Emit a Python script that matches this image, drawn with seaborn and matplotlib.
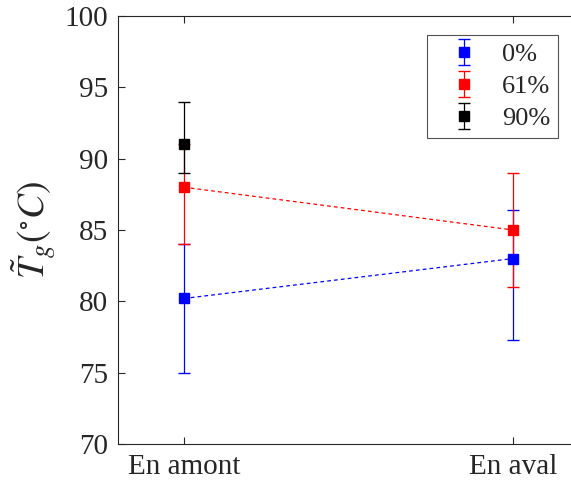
import matplotlib
matplotlib.use("Agg")
import matplotlib.pyplot as plt
import seaborn as sns
import numpy as np
import pandas as pd

categories = ["En amont", "En aval"]
series = ["0%", "61%", "90%"]
colors = ["#0000ff", "#ff0000", "#000000"]
vals_0 = [80.2, 83.0]
vals_61 = [88.0, 85.0]
vals_90 = [91.0]
lower_0 = [5.2, 5.7]
upper_0 = [3.8, 3.4]
lower_61 = [4.0, 4.0]
upper_61 = [3.0, 4.0]
lower_90 = [2.0]
upper_90 = [3.0]
yticks = [70, 75, 80, 85, 90, 95, 100]

sns.set_style("ticks")
plt.rcParams["font.family"] = ["Liberation Serif", "DejaVu Serif"]
plt.rcParams["mathtext.fontset"] = "stix"

fig = plt.figure(figsize=(5.71, 4.9), dpi=100)
ax = fig.add_axes([118/571, 1-444/490, (579-118)/571, (444-16)/490])

data = [(vals_0, lower_0, upper_0), (vals_61, lower_61, upper_61), (vals_90, lower_90, upper_90)]
xpos = np.arange(1, len(categories) + 1)
handles = []
for name, col, (v, lo, up) in zip(series, colors, data):
    x = xpos[:len(v)]
    df = pd.DataFrame({"x": x, "y": v})
    if len(v) > 1:
        sns.lineplot(data=df, x="x", y="y", ax=ax, color=col, linestyle=(0, (3, 2.5)),
                     linewidth=0.9, legend=False)
    h = ax.errorbar(x, v, yerr=[lo, up], fmt="s", color=col, ecolor=col,
                    markersize=7, elinewidth=0.9, capsize=4.5, capthick=1.0,
                    linestyle="none", label=name)
    handles.append(h)

ax.set_xlim(0.8, 2.2)
ax.set_ylim(70, 100)
ax.set_yticks(yticks)
ax.set_xticks(xpos)
ax.set_xticklabels(categories)
ax.set_xlabel("")
ax.set_ylabel(r"$\tilde{T}_g(^{\circ}C)$", fontsize=27, labelpad=4)
ax.tick_params(direction="in", length=5, width=0.8, labelsize=21, top=True, right=True,
               colors="#262626", pad=7)
for s in ax.spines.values():
    s.set_visible(True)
    s.set_linewidth(0.8)
    s.set_color("#262626")

leg = ax.legend(handles=handles, labels=series, loc="upper right",
                bbox_to_anchor=((558-118)/(579-118), 1-(35-16)/(444-16)),
                fontsize=19, frameon=True, fancybox=False, edgecolor="#262626",
                handlelength=2.2, borderpad=0.3, labelspacing=0.32, handletextpad=0.32,
                borderaxespad=0.0)
leg.get_frame().set_linewidth(0.8)

fig.savefig("out.png", dpi=100)
